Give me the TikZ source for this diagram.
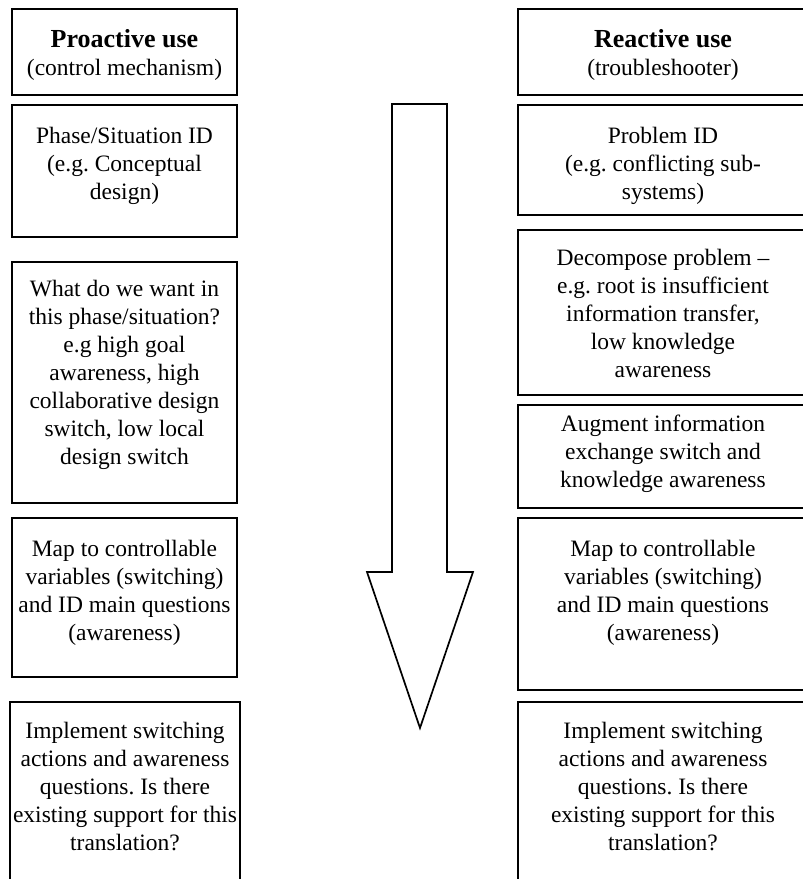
\documentclass[tikz,border=0pt]{standalone}
\usepackage{fontspec}
\setmainfont{Liberation Serif}
\frenchspacing
% one framed cell: name, x, y (top-left), width, height, top padding, text
\newcommand\cell[7]{%
  \node[cellbox, minimum width=#4pt, minimum height=#5pt] (#1) at (#2,#3)
    {\parbox[b][#5pt][t]{#4pt}{\centering\vspace*{#6pt}#7}};}
\begin{document}
\begin{tikzpicture}[x=1pt,y=-1pt,
  every node/.style={font=\fontsize{23.5}{28}\selectfont},
  cellbox/.style={draw, line width=1.7pt, anchor=north west, inner sep=0pt, outer sep=0pt},
  bigarrow/.style={draw, line width=1.7pt, line join=miter, fill=white}]
\clip (0,0) rectangle (803,879);
\fill[white] (0,0) rectangle (803,879);

% proactive column
\cell{p0}{12}{9}{225}{86}{20}{{\fontsize{26}{28}\selectfont\bfseries Proactive use}\\(control mechanism)}
\cell{p1}{12}{105}{225}{132}{22}{Phase/Situation ID\\(e.g. Conceptual\\design)}
\cell{p2}{12}{262}{225}{241}{18}{What do we want in\\this phase/situation?\\e.g high goal\\awareness, high\\collaborative design\\switch, low local\\design switch}
\cell{p3}{12}{518}{225}{159}{22}{Map to controllable\\variables (switching)\\and ID main questions\\(awareness)}
\cell{p4}{10}{702}{230}{190}{20}{Implement switching\\actions and awareness\\questions. Is there\\existing support for this\\translation?}

% reactive column (runs off the right edge)
\cell{r0}{518}{9}{290}{86}{20}{{\fontsize{26}{28}\selectfont\bfseries Reactive use}\\(troubleshooter)}
\cell{r1}{518}{105}{290}{110}{22}{Problem ID\\(e.g. conflicting sub-\\systems)}
\cell{r2}{518}{230}{290}{165}{19}{Decompose problem --\\e.g. root is insufficient\\information transfer,\\low knowledge\\awareness}
\cell{r3}{518}{405}{290}{103}{10}{Augment information\\exchange switch and\\knowledge awareness}
\cell{r4}{518}{518}{290}{172}{22}{Map to controllable\\variables (switching)\\and ID main questions\\(awareness)}
\cell{r5}{518}{702}{290}{190}{20}{Implement switching\\actions and awareness\\questions. Is there\\existing support for this\\translation?}

% downward block arrow between the columns
\draw[bigarrow] (392,104) -- (447,104) -- (447,572) -- (473,572) -- (420,728)
  -- (367,572) -- (392,572) -- cycle;
\end{tikzpicture}
\end{document}
